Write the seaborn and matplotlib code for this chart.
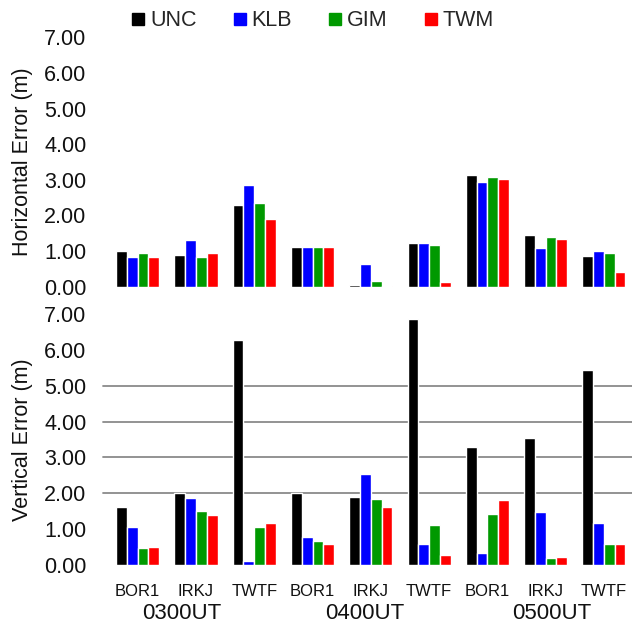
import seaborn as sns
import pandas as pd
import numpy as np
import matplotlib.pyplot as plt
from matplotlib.lines import Line2D

sns.set_theme(style='white')
plt.rcParams['font.family'] = ['Liberation Sans', 'DejaVu Sans']

stations = ['BOR1', 'IRKJ', 'TWTF']
epochs = ['0300UT', '0400UT', '0500UT']
methods = ['UNC', 'KLB', 'GIM', 'TWM']
colours = ['#000000', '#0000ff', '#009900', '#ff0000']

# horizontal error (m), groups ordered epoch by epoch, station by station
horiz_unc = [1.01, 0.90, 2.30, 1.11, 0.05, 1.24, 3.14, 1.45, 0.85]
horiz_klb = [0.84, 1.30, 2.86, 1.11, 0.65, 1.24, 2.95, 1.08, 1.01]
horiz_gim = [0.95, 0.84, 2.36, 1.11, 0.17, 1.18, 3.09, 1.40, 0.96]
horiz_twm = [0.84, 0.95, 1.90, 1.11, 0.03, 0.12, 3.02, 1.35, 0.40]

# vertical error (m)
vert_unc = [1.63, 2.02, 6.27, 2.02, 1.90, 6.85, 3.30, 3.53, 5.44]
vert_klb = [1.05, 1.86, 0.12, 0.79, 2.53, 0.58, 0.34, 1.47, 1.18]
vert_gim = [0.47, 1.51, 1.07, 0.68, 1.85, 1.12, 1.41, 0.19, 0.58]
vert_twm = [0.51, 1.39, 1.18, 0.58, 1.63, 0.28, 1.81, 0.23, 0.58]

gridvals = [2, 3, 4, 5]

###############################################################################
# LONG FORM TABLES
groups = [e + ' ' + s for e in epochs for s in stations]

def longform(series):
    rows = []
    for m, vals in zip(methods, series):
        for g, v in zip(groups, vals):
            rows.append({'group': g, 'method': m, 'value': v})
    return pd.DataFrame(rows)

horiz = longform([horiz_unc, horiz_klb, horiz_gim, horiz_twm])
vert = longform([vert_unc, vert_klb, vert_gim, vert_twm])

###############################################################################
fig = plt.figure(figsize=(6.32, 6.30), dpi=100)
ax1 = fig.add_axes([0.1717, 0.5449, 0.83, 0.3959])
ax2 = fig.add_axes([0.1717, 0.1032, 0.83, 0.3984])

for ax, df in [(ax1, horiz), (ax2, vert)]:
    sns.barplot(data=df, x='group', y='value', hue='method', order=groups,
                hue_order=methods, palette=colours, saturation=1, width=0.74,
                gap=0, legend=False, ax=ax, zorder=2)
    ax.set_xlim(-0.5, 8.5)
    ax.set_ylim(0, 7)
    ax.set_yticks(np.arange(0, 8))
    ax.set_yticklabels(['%.2f' % v for v in np.arange(0, 8)], fontsize=15.5)
    ax.tick_params(axis='both', length=0, colors='#111111')
    ax.tick_params(axis='y', pad=16)
    ax.set_xlabel('')
    sns.despine(ax=ax, left=True, bottom=True)

ax1.set_xticks([])
ax1.set_ylabel('Horizontal Error (m)', fontsize=15.5, color='#111111')
ax2.set_ylabel('Vertical Error (m)', fontsize=15.5, color='#111111')
ax1.yaxis.set_label_coords(-0.144, 0.5)
ax2.yaxis.set_label_coords(-0.144, 0.5)

ax2.set_xticks(range(len(groups)))
ax2.set_xticklabels(stations * len(epochs), fontsize=12)
ax2.tick_params(axis='x', pad=14)

for v in gridvals:
    ax2.axhline(v, xmin=-0.01, xmax=1, color='#8a8a8a', lw=1.3, zorder=0,
                clip_on=False)

# epoch labels under the station names
epoch_pos = [0.75, 3.9, 7.1]
for xp, e in zip(epoch_pos, epochs):
    ax2.text(xp, -0.192, e, transform=ax2.get_xaxis_transform(),
             ha='center', va='center', fontsize=16, color='#111111')

handles = [Line2D([], [], marker='s', ls='', color=c, markersize=8)
           for c in colours]
fig.legend(handles, methods, loc='center', bbox_to_anchor=(0.495, 0.967),
           ncol=4, frameon=False, fontsize=15.5, handlelength=0.6,
           handletextpad=0.25, columnspacing=1.7)

plt.savefig('out.png', dpi=100)
